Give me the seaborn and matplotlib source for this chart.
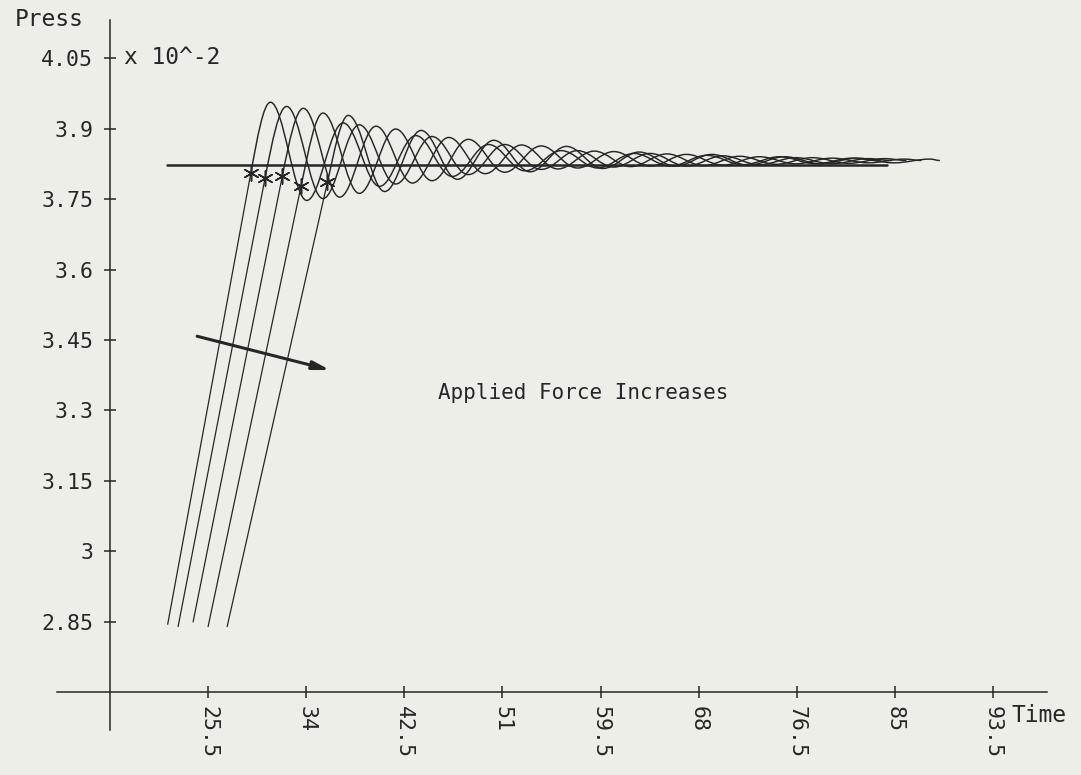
import matplotlib
matplotlib.use("Agg")
import matplotlib.pyplot as plt
import numpy as np
import pandas as pd
import seaborn as sns
from matplotlib.path import Path
from matplotlib.patches import PathPatch

# ---------------- data ----------------
curve_ids = ["c1", "c2", "c3", "c4", "c5"]
ramp_start_t = [22.0, 22.9, 24.2, 25.5, 27.15]
ramp_start_p = [2.845, 2.840, 2.850, 2.840, 2.840]
star_t = [29.2, 30.44, 31.94, 33.56, 35.84]
star_p = [3.805, 3.795, 3.800, 3.778, 3.786]

# oscillation extrema (time, pressure) per curve; last point = end of trace
c1_t = [30.9, 34.05, 37.2, 40.35, 43.5, 46.65, 49.8, 52.95, 56.1, 59.25, 62.4, 65.55, 68.7, 71.85, 75.0, 78.15, 81.3, 83.8]
c1_p = [3.956, 3.747, 3.912, 3.777, 3.885, 3.798, 3.866, 3.810, 3.853, 3.816, 3.847, 3.820, 3.843, 3.823, 3.840, 3.825, 3.837, 3.831]
c2_t = [32.3, 35.45, 38.6, 41.75, 44.9, 48.05, 51.2, 54.35, 57.5, 60.65, 63.8, 66.95, 70.1, 73.25, 76.4, 79.55, 82.7, 84.7]
c2_p = [3.947, 3.751, 3.908, 3.782, 3.883, 3.802, 3.866, 3.813, 3.853, 3.818, 3.847, 3.820, 3.842, 3.823, 3.838, 3.825, 3.836, 3.832]
c3_t = [33.75, 36.9, 40.05, 43.2, 46.35, 49.5, 52.65, 55.8, 58.95, 62.1, 65.25, 68.4, 71.55, 74.7, 77.85, 81.0, 84.15, 86.0]
c3_p = [3.943, 3.754, 3.905, 3.784, 3.881, 3.804, 3.865, 3.814, 3.852, 3.819, 3.846, 3.821, 3.841, 3.824, 3.838, 3.826, 3.836, 3.832]
c4_t = [35.45, 38.6, 41.75, 44.9, 48.05, 51.2, 54.35, 57.5, 60.65, 63.8, 66.95, 70.1, 73.25, 76.4, 79.55, 82.7, 85.85, 87.3]
c4_p = [3.933, 3.762, 3.899, 3.789, 3.877, 3.807, 3.863, 3.816, 3.851, 3.820, 3.845, 3.822, 3.840, 3.825, 3.837, 3.827, 3.835, 3.832]
c5_t = [37.65, 40.8, 43.95, 47.1, 50.25, 53.4, 56.55, 59.7, 62.85, 66.0, 69.15, 72.3, 75.45, 78.6, 81.75, 84.9, 88.05, 88.9]
c5_p = [3.928, 3.766, 3.896, 3.792, 3.875, 3.808, 3.862, 3.815, 3.850, 3.820, 3.845, 3.822, 3.840, 3.825, 3.837, 3.827, 3.835, 3.832]

setpoint_t = [21.95, 84.3]
setpoint_p = [3.823, 3.823]

x_ticks = [25.5, 34, 42.5, 51, 59.5, 68, 76.5, 85, 93.5]
x_tick_labels = ["25.5", "34", "42.5", "51", "59.5", "68", "76.5", "85", "93.5"]
y_ticks = [2.85, 3.0, 3.15, 3.3, 3.45, 3.6, 3.75, 3.9, 4.05]
y_tick_labels = ["2.85", "3", "3.15", "3.3", "3.45", "3.6", "3.75", "3.9", "4.05"]

arrow_from = (24.55, 3.458)
arrow_to = (36.07, 3.386)

# ---------------- styling ----------------
sns.set_style("white")
plt.rcParams['font.family'] = ['DejaVu Sans Mono', 'DejaVu Sans']
ink = "#262626"
paper = "#eeeee8"

fig = plt.figure(figsize=(10.81, 7.75), dpi=100, facecolor=paper)
ax = fig.add_axes([57 / 1081, 1 - 730 / 775, (1047 - 57) / 1081, (730 - 20) / 775])
ax.set_facecolor(paper)
ax.set_xlim(12.41, 98.18)
ax.set_ylim(2.620, 4.131)

# ramps (straight rises up to the asterisk)
ramp_df = pd.DataFrame({
    "curve": curve_ids + curve_ids,
    "t": ramp_start_t + star_t,
    "p": ramp_start_p + star_p,
})
sns.lineplot(data=ramp_df, x="t", y="p", units="curve", estimator=None,
             color=ink, lw=0.9, ax=ax, legend=False)

# oscillating part, drawn as smooth curves through the read extrema
ext_t = [c1_t, c2_t, c3_t, c4_t, c5_t]
ext_p = [c1_p, c2_p, c3_p, c4_p, c5_p]
K = 0.363
for i in range(5):
    t0, p0 = ramp_start_t[i], ramp_start_p[i]
    ts, ps = star_t[i], star_p[i]
    slope = (ps - p0) / (ts - t0)
    ts_list, ps_list = ext_t[i], ext_p[i]
    verts = [(ts, ps)]
    codes = [Path.MOVETO]
    dt = ts_list[0] - ts
    verts += [(ts + dt / 3, ps + slope * dt / 3), (ts_list[0] - 0.35 * dt, ps_list[0]), (ts_list[0], ps_list[0])]
    codes += [Path.CURVE4] * 3
    for j in range(1, len(ts_list)):
        a, b = ts_list[j - 1], ts_list[j]
        d = b - a
        verts += [(a + K * d, ps_list[j - 1]), (b - K * d, ps_list[j]), (b, ps_list[j])]
        codes += [Path.CURVE4] * 3
    ax.add_patch(PathPatch(Path(verts, codes), fill=False, edgecolor=ink, lw=1.05))

# setpoint line
sns.lineplot(x=setpoint_t, y=setpoint_p, color=ink, lw=1.8, ax=ax, legend=False)

# asterisk markers
sns.scatterplot(x=star_t, y=star_p, marker=(6, 2, 0), s=120, color=ink,
                linewidth=1.1, ax=ax, legend=False, zorder=5)

# arrow + annotation
ax.annotate("", xy=arrow_to, xytext=arrow_from,
            arrowprops=dict(arrowstyle="-|>,head_length=1.0,head_width=0.25",
                            color=ink, lw=2.2, shrinkA=0, shrinkB=0))
ax.text(58.0, 3.337, "Applied Force Increases", ha="center", va="center",
        fontsize=15, color=ink)

# axes crossing at (17, 2.7)
for s in ["top", "right"]:
    ax.spines[s].set_visible(False)
ax.spines["left"].set_position(("data", 17))
ax.spines["bottom"].set_position(("data", 2.7))
for s in ["left", "bottom"]:
    ax.spines[s].set_color(ink)
    ax.spines[s].set_linewidth(1.1)

ax.set_xticks(x_ticks, x_tick_labels, rotation=-90, fontsize=15.5, color=ink)
ax.set_yticks(y_ticks, y_tick_labels, fontsize=15.5, color=ink)
ax.tick_params(axis="both", bottom=True, left=True, direction="inout",
               length=8, width=1.1, color=ink)
ax.tick_params(axis="y", pad=8)
ax.tick_params(axis="x", pad=6)
for lab in ax.get_xticklabels():
    lab.set_va("top")
    lab.set_ha("center")
ax.set_xlabel("")
ax.set_ylabel("")

fig.text(15 / 1081, 1 - 20 / 775, "Press", ha="left", va="center", fontsize=16.5, color=ink)
fig.text(124 / 1081, 1 - 58 / 775, "x 10^-2", ha="left", va="center", fontsize=16.5, color=ink)
fig.text(1012 / 1081, 1 - 715 / 775, "Time", ha="left", va="center", fontsize=16.5, color=ink)

fig.savefig("out.png", dpi=100, facecolor=paper)
